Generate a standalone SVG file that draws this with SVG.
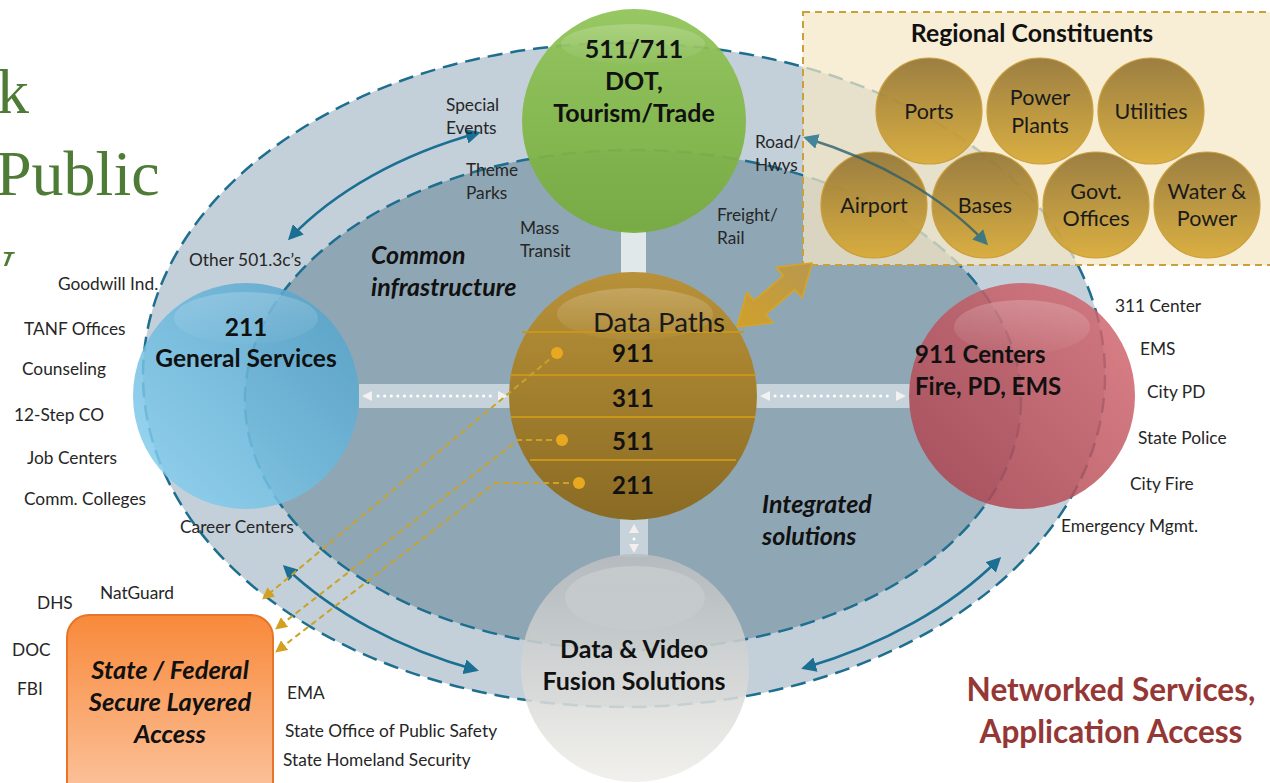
<svg xmlns="http://www.w3.org/2000/svg" width="1270" height="783" viewBox="0 0 1270 783">
<defs>
<style>
.lbl{font-family:Lato,"Liberation Sans",sans-serif;font-size:17.3px;fill:#262626}
.bold{font-family:Lato,"Liberation Sans",sans-serif;font-weight:bold;fill:#111}
.bi{font-family:Lato,"Liberation Sans",sans-serif;font-weight:bold;font-style:italic;fill:#111}
.title{font-family:"Liberation Serif",serif;font-size:64px;fill:#4e7b35}
.ring{stroke:#1d6e8f;stroke-width:2.5;stroke-dasharray:15 8}
.teal{fill:none;stroke:#1b6f92;stroke-width:2.5;marker-start:url(#tealHead);marker-end:url(#tealHead)}
.gdash{fill:none;stroke:#c9a227;stroke-width:2;stroke-dasharray:6 4;marker-end:url(#goldHead)}
.dot{fill:#e8a820}
.gold{fill:url(#gGoldSmall);stroke:#c8982a;stroke-width:1.2;opacity:0.9}
.gtxt{font-family:Lato,"Liberation Sans",sans-serif;font-size:21.5px;fill:#1a1a1a;text-anchor:middle}
.bar{fill:#d9e2e7;opacity:0.75}
.gloss{fill:url(#gGloss)}
</style>
<marker id="tealHead" viewBox="0 0 10 10" refX="8" refY="5" markerWidth="6" markerHeight="6" orient="auto-start-reverse" markerUnits="strokeWidth">
<path d="M0,0 L10,5 L0,10 z" fill="#1b6f92"/>
</marker>
<marker id="goldHead" viewBox="0 0 10 10" refX="8" refY="5" markerWidth="6" markerHeight="6" orient="auto" markerUnits="strokeWidth">
<path d="M0,0 L10,5 L0,10 z" fill="#d4a020"/>
</marker>
<linearGradient id="gGreen" x1="0" y1="0" x2="0" y2="1">
<stop offset="0" stop-color="#8fc356"/><stop offset="1" stop-color="#76ab3c"/>
</linearGradient>
<linearGradient id="gGoldBig" x1="0" y1="0" x2="0" y2="1">
<stop offset="0" stop-color="#b89139"/><stop offset="0.5" stop-color="#a27f2e"/><stop offset="1" stop-color="#8a6b24"/>
</linearGradient>
<linearGradient id="gBlue" x1="1" y1="0" x2="0" y2="1">
<stop offset="0" stop-color="#4f9fc8"/><stop offset="1" stop-color="#8bd3f2"/>
</linearGradient>
<linearGradient id="gRed" x1="1" y1="0" x2="0" y2="1">
<stop offset="0" stop-color="#d66c74"/><stop offset="1" stop-color="#a8404c"/>
</linearGradient>
<linearGradient id="gGray" x1="0" y1="0" x2="0" y2="1">
<stop offset="0" stop-color="#b9bdbf"/><stop offset="1" stop-color="#efeee9"/>
</linearGradient>
<linearGradient id="gOrange" x1="0" y1="0" x2="0" y2="1">
<stop offset="0" stop-color="#f8893a"/><stop offset="1" stop-color="#fcc6a2"/>
</linearGradient>
<linearGradient id="gGoldSmall" x1="0" y1="0" x2="0" y2="1">
<stop offset="0" stop-color="#927332"/><stop offset="1" stop-color="#d8a932"/>
</linearGradient>
<linearGradient id="gBlock" x1="0" y1="1" x2="1" y2="0">
<stop offset="0" stop-color="#d0a02a"/><stop offset="1" stop-color="#b89850"/>
</linearGradient>
<linearGradient id="gGloss" x1="0" y1="0" x2="0" y2="1">
<stop offset="0" stop-color="#ffffff" stop-opacity="0.2"/><stop offset="1" stop-color="#ffffff" stop-opacity="0.03"/>
</linearGradient>
<clipPath id="clipTitle"><rect x="0" y="0" width="220" height="266"/></clipPath>
</defs>

<rect x="0" y="0" width="1270" height="783" fill="#ffffff"/>

<g id="title-fragment" clip-path="url(#clipTitle)">
<text class="title" x="-3" y="113">k</text>
<text class="title" x="-4" y="195">Public</text>
<text class="title" x="-17" y="281">y</text>
</g>

<g id="rings">
<ellipse cx="624" cy="375" rx="481" ry="332" fill="#c3d0d9" class="ring"/>
<ellipse cx="633" cy="400" rx="388" ry="250" fill="#8fa6b4" class="ring"/>
</g>

<g id="links-bars">
<rect class="bar" x="621" y="230" width="25" height="46" style="fill:#e6ebed;opacity:0.95"/>
<rect class="bar" x="359" y="384" width="152" height="24"/>
<line x1="378" y1="396" x2="492" y2="396" stroke="#ffffff" stroke-width="3" stroke-dasharray="0.1 6.5" stroke-linecap="round"/>
<path d="M362,396 L372,391 L372,401 z" fill="#f2f2f2"/>
<path d="M508,396 L498,391 L498,401 z" fill="#f2f2f2"/>
<rect class="bar" x="756" y="384" width="154" height="24"/>
<line x1="775" y1="396" x2="892" y2="396" stroke="#ffffff" stroke-width="3" stroke-dasharray="0.1 6.5" stroke-linecap="round"/>
<path d="M760,396 L770,391 L770,401 z" fill="#f2f2f2"/>
<path d="M906,396 L896,391 L896,401 z" fill="#f2f2f2"/>
<rect class="bar" x="620" y="519" width="28" height="38"/>
<path d="M634,524 L629,533 L639,533 z" fill="#f6eeee"/>
<circle cx="634" cy="539" r="1.5" fill="#ffffff"/>
<path d="M634,553 L629,544 L639,544 z" fill="#f6eeee"/>
</g>

<g id="node-211">
<circle cx="246" cy="396" r="113" fill="url(#gBlue)" opacity="0.85"/>
<ellipse class="gloss" cx="246" cy="318" rx="72" ry="26"/>
<text class="bold" font-size="24.5" text-anchor="middle" x="246" y="336">211</text>
<text class="bold" font-size="24.5" text-anchor="middle" x="246" y="367">General Services</text>
</g>

<g id="node-dot">
<circle cx="634" cy="121" r="112" fill="url(#gGreen)" opacity="0.93"/>
<ellipse class="gloss" cx="633" cy="44" rx="72" ry="20"/>
<text class="bold" font-size="25" text-anchor="middle" x="634" y="58">511/711</text>
<text class="bold" font-size="25" text-anchor="middle" x="634" y="90">DOT,</text>
<text class="bold" font-size="25" text-anchor="middle" x="634" y="122">Tourism/Trade</text>
</g>

<g id="node-datapaths">
<circle cx="633" cy="396" r="124" fill="url(#gGoldBig)"/>
<ellipse class="gloss" cx="635" cy="314" rx="78" ry="26"/>
<g stroke="#c9961c" stroke-width="2">
<line x1="522" y1="332" x2="744" y2="332"/>
<line x1="510" y1="375" x2="756" y2="375"/>
<line x1="511" y1="417" x2="755" y2="417"/>
<line x1="530" y1="460" x2="736" y2="460"/>
</g>
<text class="lbl" text-anchor="middle" x="659" y="332" style="fill:#1a1a1a;font-size:27.7px">Data Paths</text>
<text class="bold" font-size="24" text-anchor="middle" x="633" y="362">911</text>
<text class="bold" font-size="24" text-anchor="middle" x="633" y="407">311</text>
<text class="bold" font-size="24" text-anchor="middle" x="633" y="450">511</text>
<text class="bold" font-size="24" text-anchor="middle" x="633" y="494">211</text>
</g>

<g id="node-911">
<circle cx="1022" cy="396" r="113" fill="url(#gRed)" opacity="0.85"/>
<ellipse class="gloss" cx="1022" cy="327" rx="68" ry="27"/>
<text class="bold" font-size="24" x="915" y="363">911 Centers</text>
<text class="bold" font-size="24" x="915" y="395">Fire, PD, EMS</text>
</g>

<g id="node-fusion">
<circle cx="635" cy="668" r="114" fill="url(#gGray)" opacity="0.88"/>
<ellipse class="gloss" cx="635" cy="598" rx="70" ry="32"/>
<text class="bold" font-size="25" text-anchor="middle" x="634" y="658">Data &amp; Video</text>
<text class="bold" font-size="25" text-anchor="middle" x="634" y="690">Fusion Solutions</text>
</g>

<g id="node-regional">
<rect x="803" y="12" width="475" height="253" fill="#f5e7c6" fill-opacity="0.72" stroke="#c9a13a" stroke-width="2" stroke-dasharray="7 5"/>
<text class="bold" font-size="24.8" text-anchor="middle" x="1032" y="42">Regional Constituents</text>
<g id="rc-ports"><circle class="gold" cx="929" cy="111" r="53"/><text class="gtxt" x="929" y="119">Ports</text></g>
<g id="rc-power"><circle class="gold" cx="1040" cy="111" r="53"/><text class="gtxt" x="1040" y="105">Power</text><text class="gtxt" x="1040" y="133">Plants</text></g>
<g id="rc-utilities"><circle class="gold" cx="1151" cy="111" r="53"/><text class="gtxt" x="1151" y="119">Utilities</text></g>
<g id="rc-airport"><circle class="gold" cx="874" cy="205" r="53"/><text class="gtxt" x="874" y="213">Airport</text></g>
<g id="rc-bases"><circle class="gold" cx="985" cy="205" r="53"/><text class="gtxt" x="985" y="213">Bases</text></g>
<g id="rc-govt"><circle class="gold" cx="1096" cy="205" r="53"/><text class="gtxt" x="1096" y="199">Govt.</text><text class="gtxt" x="1096" y="226">Offices</text></g>
<g id="rc-water"><circle class="gold" cx="1207" cy="205" r="53"/><text class="gtxt" x="1207" y="199">Water &amp;</text><text class="gtxt" x="1207" y="226">Power</text></g>
</g>

<g id="connectors">
<path class="teal" d="M478,133 A408,273 0 0 0 290,238"/>
<path class="teal" d="M806,138 A420,280 0 0 1 986,243" style="stroke:#2f5f6a" opacity="0.8"/>
<path class="teal" d="M285,567 A440,295 0 0 0 476,670"/>
<path class="teal" d="M804,668 A450,302 0 0 0 999,559"/>
<path class="gdash" d="M557,353 L264,598"/>
<path class="gdash" d="M562,440 L518,440 L277,628"/>
<path class="gdash" d="M579,483 L495,483 L277,651"/>
<circle class="dot" cx="557" cy="353" r="6"/>
<circle class="dot" cx="562" cy="440" r="6"/>
<circle class="dot" cx="579" cy="483" r="6"/>
<polygon points="737,327 772.8,322.7 765.6,314.4 795,289.4 802.2,297.7 812,263 776.2,267.3 783.4,275.7 754,300.7 746.8,292.3" fill="url(#gBlock)" stroke="#d9a520" stroke-width="1.5" stroke-linejoin="round"/>
</g>

<g id="node-statefed">
<rect x="67" y="615" width="206" height="190" rx="22" fill="url(#gOrange)" stroke="#e8742a" stroke-width="2"/>
<text class="bi" font-size="25.5" text-anchor="middle" x="170" y="679">State / Federal</text>
<text class="bi" font-size="25.5" text-anchor="middle" x="170" y="711">Secure Layered</text>
<text class="bi" font-size="25.5" text-anchor="middle" x="170" y="743">Access</text>
</g>

<g id="labels">
<text class="lbl" x="446" y="111">Special</text>
<text class="lbl" x="446" y="134">Events</text>
<text class="lbl" x="466" y="176">Theme</text>
<text class="lbl" x="466" y="199">Parks</text>
<text class="lbl" x="520" y="234">Mass</text>
<text class="lbl" x="520" y="257">Transit</text>
<text class="lbl" x="755" y="148">Road/</text>
<text class="lbl" x="755" y="171">Hwys</text>
<text class="lbl" x="717" y="221">Freight/</text>
<text class="lbl" x="717" y="244">Rail</text>
<text class="lbl" x="189" y="266">Other 501.3c’s</text>
<text class="lbl" x="58" y="290">Goodwill Ind.</text>
<text class="lbl" x="24" y="335">TANF Offices</text>
<text class="lbl" x="22" y="375">Counseling</text>
<text class="lbl" x="14" y="421">12-Step CO</text>
<text class="lbl" x="27" y="464">Job Centers</text>
<text class="lbl" x="24" y="505">Comm. Colleges</text>
<text class="lbl" x="180" y="533">Career Centers</text>
<text class="bi" font-size="25" x="371" y="264">Common</text>
<text class="bi" font-size="25" x="371" y="296">infrastructure</text>
<text class="bi" font-size="25" x="762" y="513">Integrated</text>
<text class="bi" font-size="25" x="762" y="545">solutions</text>
<text class="lbl" x="1115" y="312">311 Center</text>
<text class="lbl" x="1140" y="355">EMS</text>
<text class="lbl" x="1147" y="398">City PD</text>
<text class="lbl" x="1138" y="444">State Police</text>
<text class="lbl" x="1130" y="490">City Fire</text>
<text class="lbl" x="1061" y="532">Emergency Mgmt.</text>
<text class="lbl" x="37" y="609">DHS</text>
<text class="lbl" x="100" y="599">NatGuard</text>
<text class="lbl" x="12" y="656">DOC</text>
<text class="lbl" x="17" y="695">FBI</text>
<text class="lbl" x="287" y="699">EMA</text>
<text class="lbl" x="285" y="737">State Office of Public Safety</text>
<text class="lbl" x="283" y="766">State Homeland Security</text>
<text class="bold" font-size="31.5" text-anchor="middle" x="1111" y="701" style="fill:#953735">Networked Services,</text>
<text class="bold" font-size="31.5" text-anchor="middle" x="1111" y="743" style="fill:#953735">Application Access</text>
</g>
</svg>
